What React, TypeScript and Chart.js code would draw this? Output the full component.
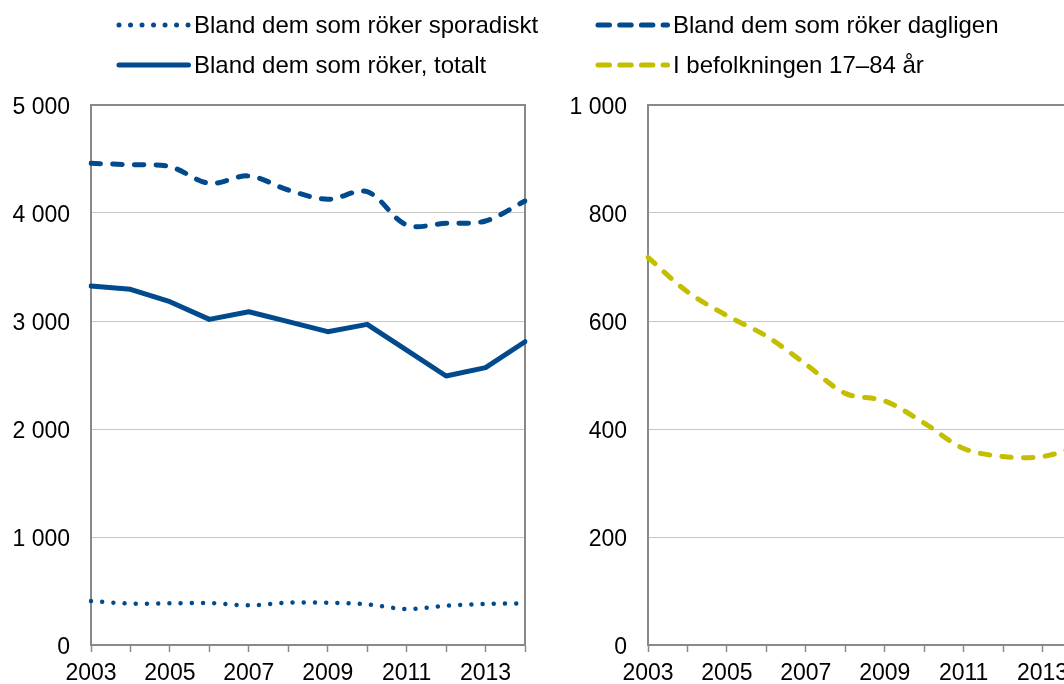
import React, { useEffect, useRef } from "react";
import { Chart, registerables } from "chart.js";

Chart.register(...registerables);

// ---- Data ----
const years = ["2003", "2004", "2005", "2006", "2007", "2008", "2009", "2010", "2011", "2012", "2013", "2014"];
const sporadiskt = [407, 384, 386, 389, 367, 392, 392, 377, 333, 364, 380, 386];
const dagligen = [4460, 4447, 4429, 4275, 4343, 4213, 4127, 4197, 3889, 3905, 3926, 4111];
const totalt = [3324, 3293, 3179, 3015, 3086, 2994, 2901, 2969, 2731, 2491, 2568, 2808];
const befolkning = [718, 654, 610, 572, 520, 466, 452, 411, 364, 349, 349, 370];

const leftAxis = { max: 5000, step: 1000 };
const rightAxis = { max: 1000, step: 200 };

const legendLabels = [
  "Bland dem som röker sporadiskt",
  "Bland dem som röker dagligen",
  "Bland dem som röker, totalt",
  "I befolkningen 17–84 år",
];

// ---- Styles ----
const BLUE = "#004A8D";
const YELLOW = "#C4BE00";
const AXIS = "#898989";
const GRID = "#C6C6C6";
const FONT = "'Liberation Sans', Arial, Helvetica, sans-serif";

const fmt = (v: number) =>
  v >= 1000 ? `${Math.floor(v / 1000)} ${String(v % 1000).padStart(3, "0")}` : String(v);

const boxPlugin = {
  id: "plotBox",
  beforeDatasetsDraw(chart: any) {
    const { ctx, chartArea: a } = chart;
    ctx.save();
    ctx.strokeStyle = AXIS;
    ctx.lineWidth = 2;
    ctx.strokeRect(a.left, a.top, a.right - a.left, a.bottom - a.top);
    ctx.restore();
  },
};

type PanelProps = {
  left: number;
  width: number;
  yAxisWidth: number;
  padRight: number;
  yMax: number;
  yStep: number;
  datasets: any[];
};

function Panel({ left, width, yAxisWidth, padRight, yMax, yStep, datasets }: PanelProps) {
  const ref = useRef<HTMLCanvasElement | null>(null);
  useEffect(() => {
    if (!ref.current) return;
    const chart = new Chart(ref.current, {
      type: "line",
      data: { labels: years, datasets },
      options: {
        animation: false,
        responsive: false,
        maintainAspectRatio: false,
        devicePixelRatio: 1,
        layout: { padding: { left: 0, top: 105, right: padRight, bottom: 0 } },
        plugins: { legend: { display: false }, tooltip: { enabled: false } },
        elements: { point: { radius: 0, hoverRadius: 0 } },
        scales: {
          x: {
            type: "category",
            offset: false,
            grid: {
              drawOnChartArea: false,
              drawTicks: true,
              tickLength: 7,
              tickColor: AXIS,
              tickWidth: 1.5,
              color: AXIS,
            },
            border: { color: AXIS, width: 2 },
            ticks: {
              autoSkip: false,
              maxRotation: 0,
              minRotation: 0,
              padding: 8,
              color: "#000",
              font: { family: FONT, size: 23 },
              callback: (_v: any, i: number) => (Number(years[i]) % 2 === 1 ? years[i] : ""),
            },
            afterFit: (s: any) => {
              s.height = 39;
            },
          },
          y: {
            min: 0,
            max: yMax,
            ticks: {
              stepSize: yStep,
              padding: 21,
              labelOffset: 3,
              color: "#000",
              font: { family: FONT, size: 23 },
              callback: (v: any) => fmt(Number(v)),
            },
            grid: { color: GRID, lineWidth: 1, drawTicks: false },
            border: { color: AXIS, width: 2 },
            afterFit: (s: any) => {
              s.width = yAxisWidth;
            },
          },
        },
      } as any,
      plugins: [boxPlugin],
    });
    return () => chart.destroy();
  }, []);
  return (
    <canvas
      ref={ref}
      width={width}
      height={684}
      style={{ position: "absolute", left, top: 0, width, height: 684 }}
    />
  );
}

function LegendItem({
  x,
  y,
  color,
  kind,
  label,
}: {
  x: number;
  y: number;
  color: string;
  kind: "dot" | "dash" | "solid";
  label: string;
}) {
  const dash = kind === "dot" ? "0.01 11.5" : kind === "dash" ? "11.5 10.2" : undefined;
  const sw = kind === "dot" ? 5 : 5;
  return (
    <div
      style={{
        position: "absolute",
        left: x,
        top: y - 15,
        height: 30,
        display: "flex",
        alignItems: "center",
        whiteSpace: "nowrap",
      }}
    >
      <svg width={78} height={12} style={{ display: "block" }}>
        <line
          x1={3}
          y1={6}
          x2={72.5}
          y2={6}
          stroke={color}
          strokeWidth={sw}
          strokeLinecap="round"
          strokeDasharray={dash}
        />
      </svg>
      <span style={{ fontFamily: FONT, fontSize: 24, color: "#000", lineHeight: "30px" }}>{label}</span>
    </div>
  );
}

export default function App() {
  const leftSets = [
    {
      label: legendLabels[0],
      data: sporadiskt,
      borderColor: BLUE,
      borderWidth: 4.5,
      borderDash: [0.01, 11.2],
      borderCapStyle: "round",
      tension: 0.33,
      fill: false,
    },
    {
      label: legendLabels[1],
      data: dagligen,
      borderColor: BLUE,
      borderWidth: 5,
      borderDash: [9.5, 12.2],
      borderCapStyle: "round",
      tension: 0.33,
      fill: false,
    },
    {
      label: legendLabels[2],
      data: totalt,
      borderColor: BLUE,
      borderWidth: 5,
      borderCapStyle: "round",
      borderJoinStyle: "round",
      tension: 0,
      fill: false,
    },
  ];
  const rightSets = [
    {
      label: legendLabels[3],
      data: befolkning,
      borderColor: YELLOW,
      borderWidth: 5,
      borderDash: [9.5, 12.2],
      borderCapStyle: "round",
      tension: 0.33,
      fill: false,
    },
  ];
  return (
    <div
      style={{
        position: "fixed",
        left: 0,
        top: 0,
        width: 1064,
        height: 684,
        overflow: "hidden",
        background: "#fff",
      }}
    >
      <Panel left={0} width={545} yAxisWidth={91} padRight={20} yMax={leftAxis.max} yStep={leftAxis.step} datasets={leftSets} />
      <Panel left={540} width={560} yAxisWidth={108} padRight={18} yMax={rightAxis.max} yStep={rightAxis.step} datasets={rightSets} />
      <LegendItem x={116} y={25} color={BLUE} kind="dot" label={legendLabels[0]} />
      <LegendItem x={595} y={25} color={BLUE} kind="dash" label={legendLabels[1]} />
      <LegendItem x={116} y={65} color={BLUE} kind="solid" label={legendLabels[2]} />
      <LegendItem x={595} y={65} color={YELLOW} kind="dash" label={legendLabels[3]} />
    </div>
  );
}
